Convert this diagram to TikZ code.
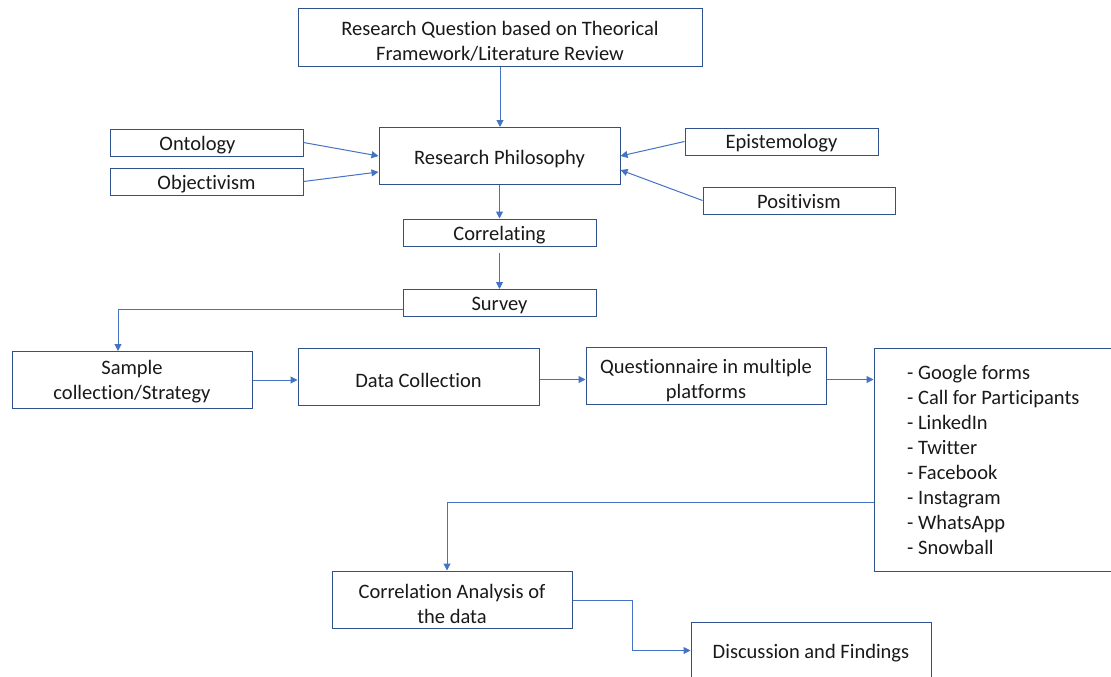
\documentclass[tikz,border=0pt]{standalone}
\usepackage{fontspec}
\setmainfont{Carlito}[Ligatures={NoCommon}]
\usetikzlibrary{arrows.meta,calc}
\definecolor{boxblue}{HTML}{2F528F}
\definecolor{arrblue}{HTML}{4472C4}
\begin{document}
\begin{tikzpicture}[x=1pt,y=-1pt,
  box/.style={draw=boxblue,line width=1pt,rectangle,inner sep=0pt},
  txt/.style={inner sep=0pt,align=center,font=\fontsize{20.5}{25}\selectfont,text=black!90},
  lbl/.style={inner sep=0pt,align=left,font=\fontsize{20.5}{25}\selectfont,text=black!90},
  conn/.style={draw=arrblue,line width=1pt,-{Triangle[length=7pt,width=7pt]}}]
\useasboundingbox (0,0) rectangle (1111,677);
\clip (0,0) rectangle (1111,677);
\node[box,minimum width=404pt,minimum height=58pt,
  label={[txt,yshift=-3pt]center:{Research Question based on Theorical\\Framework/Literature Review}}] (rq) at (500,38) {};
\node[box,minimum width=193pt,minimum height=27pt,
  label={[txt,xshift=-9pt,yshift=-3pt]center:Ontology}] (onto) at (206.5,142.5) {};
\node[box,minimum width=193pt,minimum height=27pt,
  label={[txt,yshift=-3pt]center:Objectivism}] (objv) at (206.5,181.5) {};
\node[box,minimum width=241pt,minimum height=57pt,
  label={[txt,yshift=-3pt]center:Research Philosophy}] (rp) at (499.5,156) {};
\node[box,minimum width=193pt,minimum height=27pt,
  label={[txt,yshift=-2pt]center:Epistemology}] (epis) at (781.5,141.5) {};
\node[box,minimum width=192pt,minimum height=27pt,
  label={[txt,yshift=-1pt]center:Positivism}] (posi) at (799,200.5) {};
\node[box,minimum width=193pt,minimum height=27pt,
  label={[txt,yshift=-3pt]center:Correlating}] (corr) at (499.5,232.5) {};
\node[box,minimum width=193pt,minimum height=27pt,
  label={[txt,yshift=-2pt]center:Survey}] (surv) at (499.5,303) {};
\node[box,minimum width=240pt,minimum height=57pt,
  label={[txt,yshift=-2pt]center:{Sample\\collection/Strategy}}] (samp) at (132,380) {};
\node[box,minimum width=241pt,minimum height=57pt,
  label={[txt,yshift=-4pt]center:Data Collection}] (datc) at (418.5,376.5) {};
\node[box,minimum width=240pt,minimum height=57pt,
  label={[txt,yshift=-5.5pt]center:{Questionnaire in multiple\\platforms}}] (ques) at (706,375.5) {};
\node[box,minimum width=260pt,minimum height=223pt] (list) at (1004,459.5) {};
\node[lbl,anchor=west] (listtext) at (907,459.5)
  {- Google forms\\- Call for Participants\\- LinkedIn\\- Twitter\\- Facebook\\- Instagram\\- WhatsApp\\- Snowball};
\node[box,minimum width=240pt,minimum height=57pt,
  label={[txt,yshift=-4.5pt]center:{Correlation Analysis of\\the data}}] (cana) at (452,599.5) {};
\node[box,minimum width=240pt,minimum height=57pt,
  label={[txt,yshift=-3pt]center:Discussion and Findings}] (disc) at (811,650.5) {};
\draw[conn] (rq.south) -- (rq.south |- rp.north);
\draw[conn] (onto.east) -- (rp.west);
\draw[conn] (objv.east) -- ([yshift=-16pt]rp.west);
\draw[conn] (epis.west) -- (rp.east);
\draw[conn] (posi.west) -- ([yshift=-14pt]rp.east);
\draw[conn] (rp.south) -- (rp.south |- corr.north);
\draw[conn] ([yshift=-6pt]corr.south) -- (corr.south |- surv.north);
\draw[conn] ([yshift=-6pt]surv.west) -| ([xshift=-14pt]samp.north);
\draw[conn] (samp.east) -- (samp.east -| datc.west);
\draw[conn] ([yshift=-3pt]datc.east) -- ([yshift=-3pt]datc.east -| ques.west);
\draw[conn] ([yshift=-4pt]ques.east) -- ([yshift=-4pt]ques.east -| list.west);
\draw[conn] ([yshift=-42.5pt]list.west) -| ([xshift=-5pt]cana.north);
\draw[conn] ([yshift=-0.5pt]cana.east) -- ++(60,0) |- (disc.west);
\end{tikzpicture}
\end{document}
